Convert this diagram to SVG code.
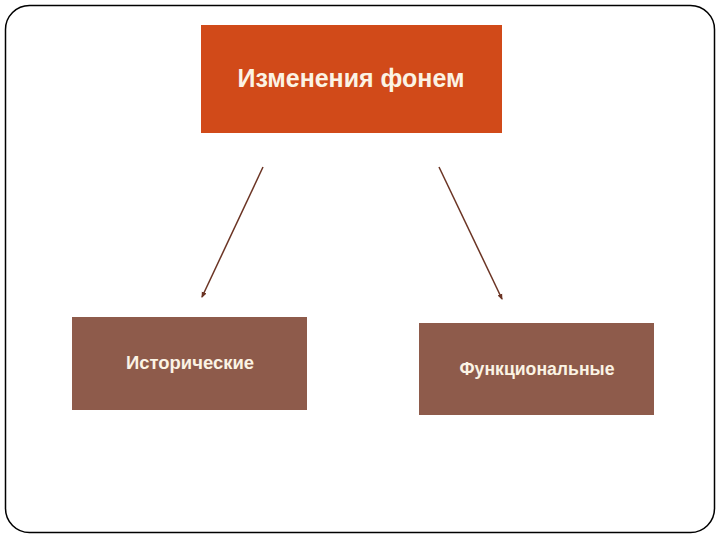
<svg xmlns="http://www.w3.org/2000/svg" width="720" height="540" viewBox="0 0 720 540">
<style>
.lbl{font-family:"Liberation Sans",Arial,sans-serif;fill:#FBF3E4;text-anchor:middle;dominant-baseline:central}
.sub{fill:#8E5B4B}
.conn{stroke:#6B3424;stroke-width:1.5;fill:none}
</style>
<defs>
<marker id="ah" markerWidth="6" markerHeight="6" refX="5" refY="3" orient="auto" markerUnits="userSpaceOnUse">
<path d="M0,0.5 L6,3 L0,5.5 z" fill="#6B3424"/>
</marker>
</defs>
<rect x="0" y="0" width="720" height="540" fill="#ffffff"/>
<rect x="5.5" y="5.5" width="709" height="527" rx="24" ry="24" fill="none" stroke="#000" stroke-width="1.5"/>
<g id="connectors">
<line class="conn" x1="263" y1="167" x2="202" y2="297" marker-end="url(#ah)"/>
<line class="conn" x1="439" y1="167" x2="502" y2="299" marker-end="url(#ah)"/>
</g>
<g id="node-top">
<rect x="201" y="25" width="301" height="108" fill="#D14A19"/>
<text class="lbl" x="351" y="78" font-size="26" font-weight="bold" textLength="227" lengthAdjust="spacingAndGlyphs">Изменения фонем</text>
</g>
<g id="node-hist">
<rect class="sub" x="72" y="317" width="235" height="93"/>
<text class="lbl" x="190" y="362" font-size="19" font-weight="bold" textLength="128" lengthAdjust="spacingAndGlyphs">Исторические</text>
</g>
<g id="node-func">
<rect class="sub" x="419" y="323" width="235" height="92"/>
<text class="lbl" x="537" y="368" font-size="19" font-weight="bold" textLength="155" lengthAdjust="spacingAndGlyphs">Функциональные</text>
</g>
</svg>
